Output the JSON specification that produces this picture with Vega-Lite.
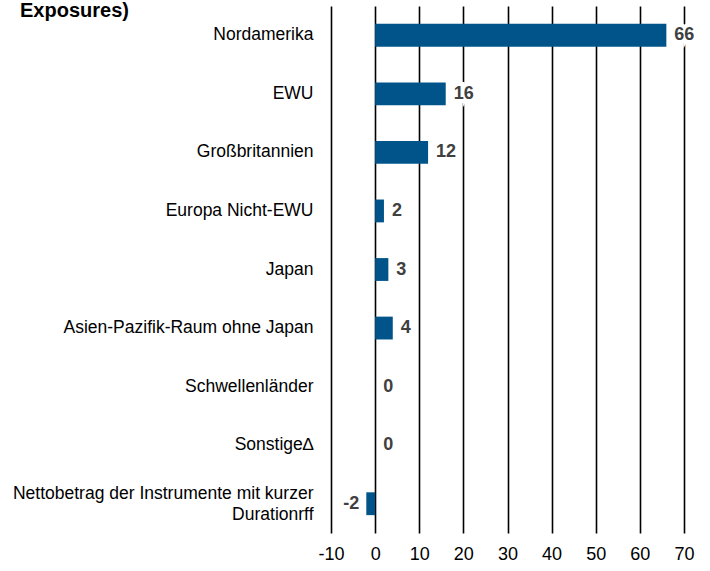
{
  "$schema": "https://vega.github.io/schema/vega-lite/v6.json",
  "autosize": "none",
  "width": 353,
  "height": 527,
  "padding": {"left": 331, "top": 6, "right": 26, "bottom": 38},
  "background": "white",
  "title": {
    "text": "Exposures)",
    "anchor": "start",
    "frame": "group",
    "orient": "top",
    "baseline": "alphabetic",
    "offset": 0,
    "dx": -311,
    "dy": 31,
    "font": "Liberation Sans",
    "fontSize": 20,
    "fontWeight": "bold",
    "color": "#000000"
  },
  "data": {
    "values": [
      {"region": "Nordamerika", "value": 66},
      {"region": "EWU", "value": 16},
      {"region": "Großbritannien", "value": 12},
      {"region": "Europa Nicht-EWU", "value": 2},
      {"region": "Japan", "value": 3},
      {"region": "Asien-Pazifik-Raum ohne Japan", "value": 4},
      {"region": "Schwellenländer", "value": 0},
      {"region": "Sonstige∆", "value": 0},
      {"region": "Nettobetrag der Instrumente mit kurzer|Durationrff", "value": -2}
    ]
  },
  "config": {
    "view": {"stroke": null},
    "font": "Liberation Sans"
  },
  "encoding": {
    "y": {
      "field": "region",
      "type": "nominal",
      "sort": null,
      "scale": {"paddingInner": 0.61, "paddingOuter": 0.305},
      "axis": {
        "title": null,
        "domain": false,
        "ticks": false,
        "labelPadding": 18,
        "labelFont": "Liberation Sans",
        "labelFontSize": 17.5,
        "labelColor": "#000000",
        "labelLimit": 400,
        "labelLineHeight": 21,
        "labelOffset": {"condition": {"test": "indexof(datum.label, '|') >= 0", "value": -10}, "value": 0},
        "labelExpr": "split(datum.label, '|')"
      }
    }
  },
  "layer": [
    {
      "mark": {"type": "bar", "color": "#00548A"},
      "encoding": {
        "x": {
          "field": "value",
          "type": "quantitative",
          "scale": {"domain": [-10, 70], "nice": false, "zero": false},
          "axis": {
            "title": null,
            "values": [-10, 0, 10, 20, 30, 40, 50, 60, 70],
            "labelExpr": "replace(datum.label, '−', '-')",
            "grid": true,
            "gridColor": "#000000",
            "gridWidth": 1.6,
            "gridOpacity": 1,
            "domain": false,
            "ticks": false,
            "labelPadding": 12,
            "labelFont": "Liberation Sans",
            "labelFontSize": 18,
            "labelColor": "#000000",
            "labelFlush": false
          }
        }
      }
    },
    {
      "transform": [{"filter": "datum.value >= 0"}],
      "mark": {"type": "text", "align": "left", "baseline": "middle", "dx": 8, "font": "Liberation Sans", "fontSize": 18, "fontWeight": "bold", "color": "white", "stroke": "white", "strokeWidth": 8},
      "encoding": {"x": {"field": "value", "type": "quantitative"}, "text": {"field": "value", "type": "nominal"}}
    },
    {
      "transform": [{"filter": "datum.value < 0"}],
      "mark": {"type": "text", "align": "right", "baseline": "middle", "dx": -7, "font": "Liberation Sans", "fontSize": 18, "fontWeight": "bold", "color": "white", "stroke": "white", "strokeWidth": 8},
      "encoding": {"x": {"field": "value", "type": "quantitative"}, "text": {"field": "value", "type": "nominal"}}
    },
    {
      "transform": [{"filter": "datum.value >= 0"}],
      "mark": {"type": "text", "align": "left", "baseline": "middle", "dx": 8, "font": "Liberation Sans", "fontSize": 18, "fontWeight": "bold", "color": "#404040"},
      "encoding": {"x": {"field": "value", "type": "quantitative"}, "text": {"field": "value", "type": "nominal"}}
    },
    {
      "transform": [{"filter": "datum.value < 0"}],
      "mark": {"type": "text", "align": "right", "baseline": "middle", "dx": -7, "font": "Liberation Sans", "fontSize": 18, "fontWeight": "bold", "color": "#404040"},
      "encoding": {"x": {"field": "value", "type": "quantitative"}, "text": {"field": "value", "type": "nominal"}}
    }
  ]
}
